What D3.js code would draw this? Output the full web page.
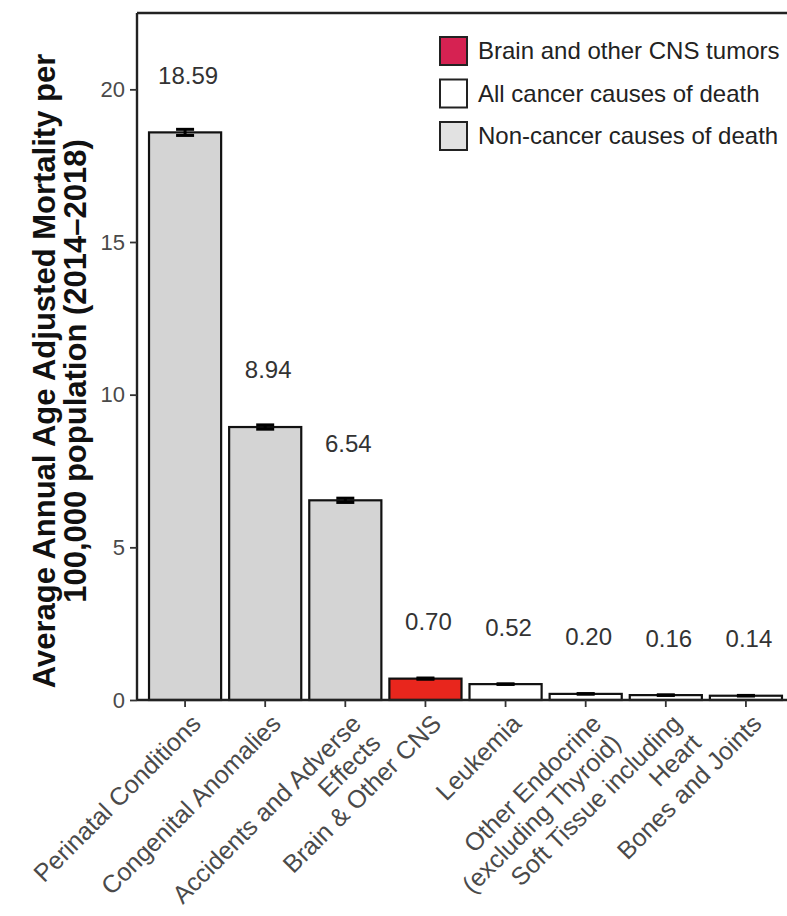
<!DOCTYPE html>
<html>
<head>
<meta charset="utf-8">
<script src="https://cdn.jsdelivr.net/npm/d3@7"></script>
<style>
  html, body { margin: 0; padding: 0; background: #fff; }
  svg { display: block; font-family: "Liberation Sans", Arial, Helvetica, sans-serif; }
</style>
</head>
<body>
<svg id="chart" width="787" height="916"></svg>
<script>
// Causes of death, average annual age-adjusted mortality per 100,000 (2014–2018)
const categories = [
  "Perinatal Conditions",
  "Congenital Anomalies",
  "Accidents and Adverse\nEffects",
  "Brain & Other CNS",
  "Leukemia",
  "Other Endocrine\n(excluding Thyroid)",
  "Soft Tissue including\nHeart",
  "Bones and Joints"
];
const rates = [18.59, 8.94, 6.54, 0.70, 0.52, 0.20, 0.16, 0.14];
const errors = [0.10, 0.07, 0.07, 0.02, 0.01, 0.01, 0.01, 0.01];
const groups = ["noncancer", "noncancer", "noncancer", "brain", "cancer", "cancer", "cancer", "cancer"];
const yTicks = [0, 5, 10, 15, 20];
const legendKeys = ["brain", "cancer", "noncancer"];
const legendLabels = ["Brain and other CNS tumors", "All cancer causes of death", "Non-cancer causes of death"];
const yTitle = ["Average Annual Age Adjusted Mortality per", "100,000 population (2014\u20132018)"];

const barFill = { brain: "#e8261d", cancer: "#ffffff", noncancer: "#d4d4d4" };
const keyFill = { brain: "#d62252", cancer: "#ffffff", noncancer: "#e2e2e2" };

const svg = d3.select("#chart");
const panel = { left: 137, right: 794, top: 13, bottom: 700 };

const x = d3.scaleBand()
  .domain(d3.range(categories.length))
  .range([panel.left, panel.right])
  .paddingInner(0.1)
  .paddingOuter(0.15);

const y = d3.scaleLinear()
  .domain([0, 22.5])
  .range([panel.bottom, panel.top]);

// bars
svg.append("g").selectAll("rect")
  .data(rates)
  .join("rect")
  .attr("x", (d, i) => x(i))
  .attr("y", d => y(d))
  .attr("width", x.bandwidth())
  .attr("height", d => y(0) - y(d))
  .attr("fill", (d, i) => barFill[groups[i]])
  .attr("stroke", "#111")
  .attr("stroke-width", 2.2);

// error bars
const eb = svg.append("g").attr("stroke", "#000").attr("stroke-width", 3);
rates.forEach((v, i) => {
  const cx = x(i) + x.bandwidth() / 2;
  const hw = 9;
  const lo = y(v - errors[i]), hi = y(v + errors[i]);
  eb.append("line").attr("x1", cx).attr("x2", cx).attr("y1", lo).attr("y2", hi);
  eb.append("line").attr("x1", cx - hw).attr("x2", cx + hw).attr("y1", lo).attr("y2", lo);
  eb.append("line").attr("x1", cx - hw).attr("x2", cx + hw).attr("y1", hi).attr("y2", hi);
});

// value labels above each bar
svg.append("g").selectAll("text")
  .data(rates)
  .join("text")
  .attr("x", (d, i) => x(i) + x.bandwidth() / 2 + 3)
  .attr("y", d => y(d) - 57)
  .attr("dy", "0.35em")
  .attr("text-anchor", "middle")
  .attr("font-size", 24)
  .attr("fill", "#333")
  .text(d => d.toFixed(2));

// panel border (top and left), bottom axis line
const border = svg.append("g").attr("stroke", "#222").attr("stroke-width", 2.4).attr("fill", "none");
border.append("line").attr("x1", panel.left).attr("x2", panel.right).attr("y1", panel.top).attr("y2", panel.top);
border.append("line").attr("x1", panel.left).attr("x2", panel.left).attr("y1", panel.top).attr("y2", panel.bottom);
border.append("line").attr("x1", panel.left).attr("x2", panel.right).attr("y1", panel.bottom).attr("y2", panel.bottom);

// y axis
const yAxis = svg.append("g")
  .attr("transform", `translate(${panel.left},0)`)
  .call(d3.axisLeft(y).tickValues(yTicks).tickSize(7).tickPadding(5));
yAxis.select(".domain").remove();
yAxis.selectAll(".tick line").attr("stroke", "#333").attr("stroke-width", 1.8);
yAxis.selectAll(".tick text")
  .attr("font-size", 22)
  .attr("fill", "#4a4a4a")
  .attr("font-family", "Liberation Sans, Arial, sans-serif");

// x axis ticks
const xAxis = svg.append("g")
  .attr("transform", `translate(0,${panel.bottom})`)
  .call(d3.axisBottom(x).tickSize(7).tickFormat(""));
xAxis.select(".domain").remove();
xAxis.selectAll(".tick line").attr("stroke", "#333").attr("stroke-width", 1.8);

// rotated category labels
const lab = svg.append("g");
categories.forEach((c, i) => {
  const cx = x(i) + x.bandwidth() / 2;
  const g = lab.append("g").attr("transform", `translate(${cx + 4},${panel.bottom + 12}) rotate(-45)`);
  const t = g.append("text")
    .attr("text-anchor", "end")
    .attr("font-size", 25)
    .attr("fill", "#4a4a4a");
  c.split("\n").forEach((line, j) => {
    t.append("tspan")
      .attr("x", 0)
      .attr("y", 0)
      .attr("dy", (0.75 + j * 1.1) + "em")
      .text(line);
  });
});

// y axis title
const yt = svg.append("text")
  .attr("transform", `translate(60,371) rotate(-90)`)
  .attr("text-anchor", "middle")
  .attr("font-size", 31)
  .attr("font-weight", "bold")
  .attr("fill", "#111");
yTitle.forEach((line, j) => {
  yt.append("tspan").attr("x", 0).attr("y", 0).attr("dy", (j * 1.0 - 0.15) + "em").text(line);
});

// legend
const legend = svg.append("g").attr("transform", "translate(439,36)");
legendKeys.forEach((k, i) => {
  const row = legend.append("g").attr("transform", `translate(0,${i * 42.5})`);
  row.append("rect")
    .attr("x", 1).attr("y", 1).attr("width", 27).attr("height", 28)
    .attr("fill", keyFill[k]).attr("stroke", "#222").attr("stroke-width", 2);
  row.append("text")
    .attr("x", 39).attr("y", 15).attr("dy", "0.35em")
    .attr("font-size", 24).attr("fill", "#222")
    .text(legendLabels[i]);
});
</script>
</body>
</html>
